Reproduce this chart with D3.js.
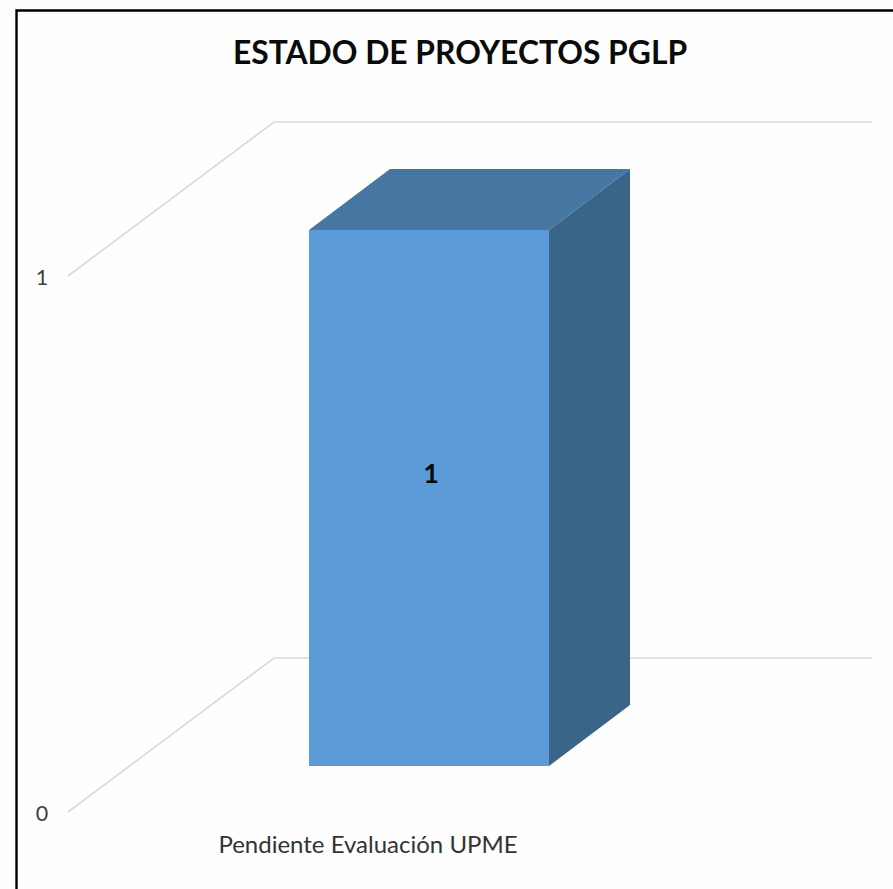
<!DOCTYPE html>
<html><head><meta charset="utf-8">
<script src="https://cdn.jsdelivr.net/npm/d3@7/dist/d3.min.js"></script>
<style>html,body{margin:0;padding:0;background:#fff}svg{display:block}text{font-family:Lato,"Open Sans",sans-serif}</style>
</head><body><svg id="c" width="893" height="889"></svg>
<script>
const titleText = "ESTADO DE PROYECTOS PGLP";
const categories = ["Pendiente Evaluación UPME"];
const values = [1];
const yTicks = [0, 1];

const svg = d3.select("#c");
const W = 893, H = 889;
svg.append("rect").attr("width",W).attr("height",H).attr("fill","#fefefe");
svg.append("path").attr("d","M16.5,889V10.5H893").attr("fill","none").attr("stroke","#000").attr("stroke-width",2.4);

// front plane of the floor and the offsets of the 3D box
const y = d3.scaleLinear().domain([0,1]).range([812,276]);
const wall = {dx:206, dy:-154};
const x = d3.scaleBand().domain(categories).range([309,549]);
const barDepth = {dx:81, dy:-61};
const barShift = -46;

// gridlines and value labels
yTicks.forEach(t=>{
  svg.append("path")
    .attr("d",d3.line()([[68,y(t)],[68+wall.dx,y(t)+wall.dy],[872,y(t)+wall.dy]]))
    .attr("fill","none").attr("stroke","#d9d9d9").attr("stroke-width",1.6);
  svg.append("text").attr("x",42).attr("y",y(t)+9).attr("text-anchor","middle")
    .attr("font-size",21.5).attr("fill","#404040").text(t);
});

// bar
values.forEach((v,i)=>{
  const c = categories[i];
  const yb = y(0)+barShift, yt = y(v)+barShift;
  const xl = x(c), xr = xl+x.bandwidth(), dx = barDepth.dx, dy = barDepth.dy;
  svg.append("path").attr("d",d3.line()([[xr,yb],[xr+dx,yb+dy],[xr+dx,yt+dy],[xr,yt]])+"Z").attr("fill","#3a6588");
  svg.append("path").attr("d",d3.line()([[xl,yt],[xl+dx,yt+dy],[xr+dx,yt+dy],[xr,yt]])+"Z").attr("fill","#4676a2");
  svg.append("rect").attr("x",xl).attr("y",yt).attr("width",xr-xl).attr("height",yb-yt).attr("fill","#5b9bd8");
  svg.append("text").attr("x",(xl+xr)/2+2).attr("y",(yt+yb)/2-15).attr("text-anchor","middle")
    .attr("font-size",27).attr("font-weight",700).attr("fill","#0a0a0a").text(v);
  svg.append("text").attr("x",368).attr("y",853).attr("text-anchor","middle")
    .attr("font-size",24).attr("fill","#333").text(c);
});

svg.append("text").attr("x",460).attr("y",64).attr("text-anchor","middle")
  .attr("font-size",31.8).attr("font-weight",700).attr("fill","#0a0a0a").text(titleText);
</script></body></html>
